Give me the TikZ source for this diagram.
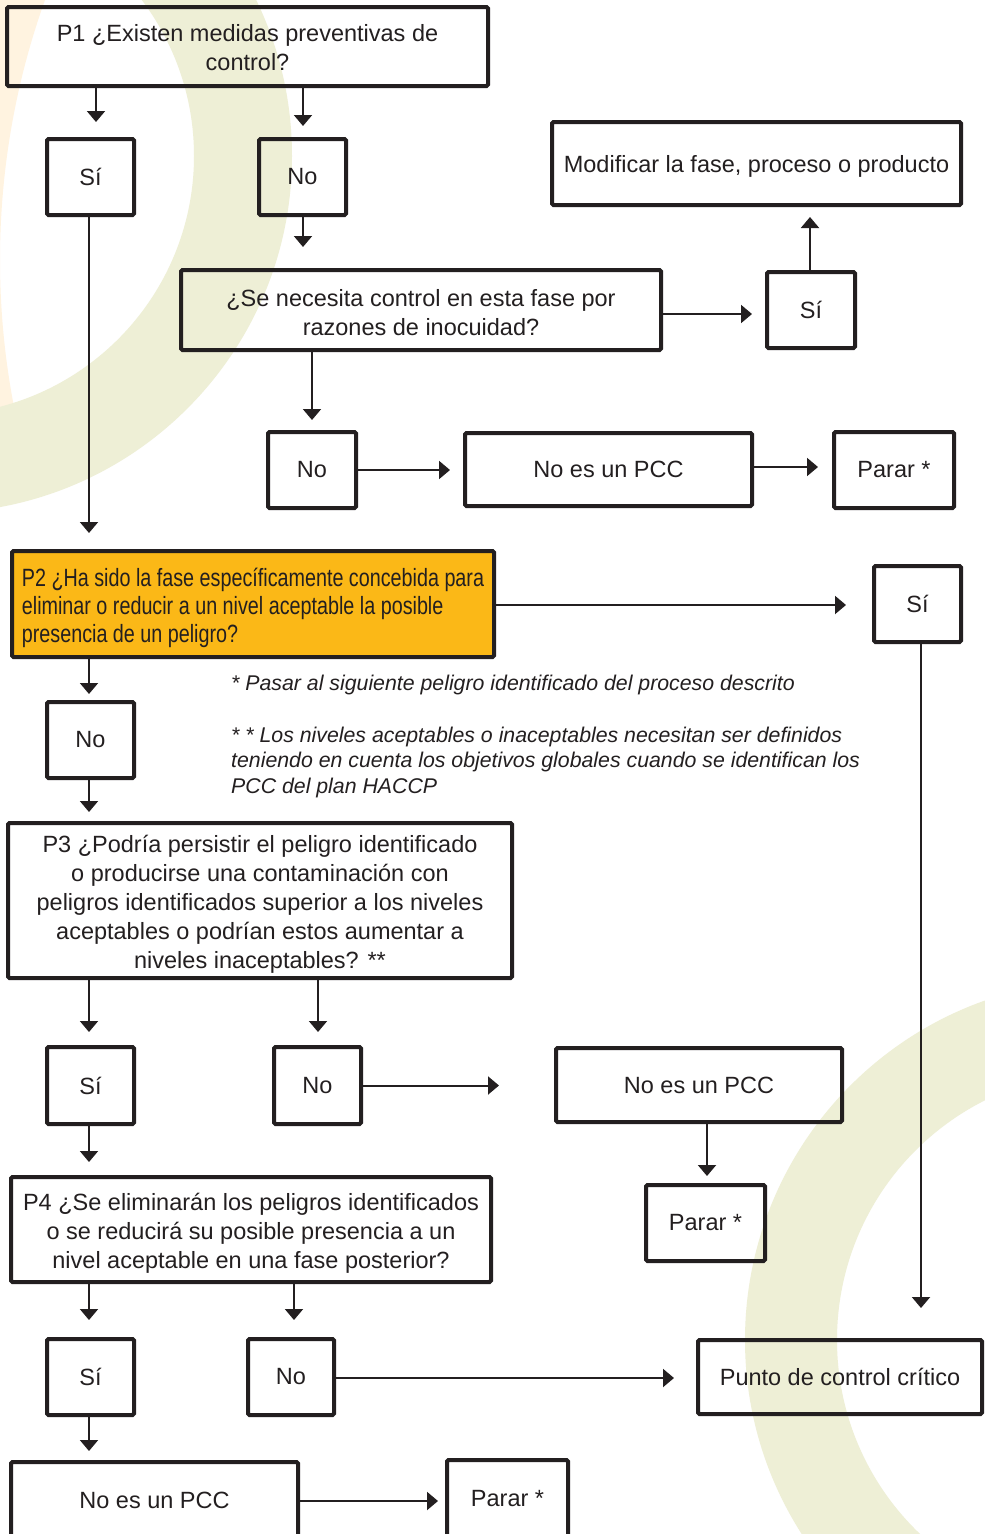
\documentclass[tikz,border=0pt]{standalone}
\usepackage{fontspec}
\setmainfont{Liberation Sans}
\newfontfamily\narrowf[FakeStretch=0.79]{Liberation Sans}
\usetikzlibrary{arrows.meta}
\definecolor{ink}{HTML}{231F20}
\definecolor{ringolive}{RGB}{238,239,214}
\definecolor{ringpeach}{RGB}{255,243,224}
\definecolor{p2orange}{HTML}{FBB817}
\newcommand{\tallline}[1]{\rule{0pt}{#1}}
\begin{document}
\begin{tikzpicture}[x=1pt,y=-1pt,
  box/.style={draw=ink, line width=4pt, rounded corners=1.5pt, inner sep=0pt, align=center, text=ink, font=\fontsize{23.5}{29}\selectfont},
  arr/.style={draw=ink, line width=2pt, -{Triangle[width=18pt,length=11pt]}},
  note/.style={text=ink, font=\fontsize{21.3}{25.5}\selectfont\itshape, align=left, inner sep=0pt, anchor=west}]
\useasboundingbox (0,0) rectangle (985,1534);
\fill[white] (0,0) rectangle (985,1534);
\begin{scope}
\clip (0,0) rectangle (70,440);
\fill[ringpeach, even odd rule] (770,260) circle[radius=815pt] (770,260) circle[radius=770pt];
\end{scope}
\begin{scope}
\clip (0,0) rectangle (985,1534);
\fill[ringolive, even odd rule] (-65,156) circle[radius=357pt] (-65,156) circle[radius=259pt];
\fill[ringolive, even odd rule] (1105,1340) circle[radius=360pt] (1105,1340) circle[radius=268pt];
\end{scope}

% boxes
\node[box, minimum width=481pt, minimum height=79pt] (p1) at (247.5,46.5) {\tallline{19.5pt}P1 ¿Existen medidas preventivas de\\control?};
\node[box, minimum width=87pt, minimum height=76pt] (si1) at (90.5,177) {Sí};
\node[box, minimum width=87pt, minimum height=76pt] (no1) at (302.5,177) {No};
\node[box, minimum width=480pt, minimum height=80pt] (nec) at (421,310) {\tallline{22pt}¿Se necesita control en esta fase por\\razones de inocuidad?};
\node[box, minimum width=88pt, minimum height=76pt] (si2) at (811,310) {Sí};
\node[box, minimum width=409pt, minimum height=83pt] (mod) at (756.5,163.5) {\tallline{23pt}Modificar la fase, proceso o producto};
\node[box, minimum width=88pt, minimum height=76pt] (no2) at (312,470) {No};
\node[box, minimum width=287pt, minimum height=73pt] (pcc1) at (608.5,469.5) {No es un PCC};
\node[box, minimum width=120pt, minimum height=76pt] (par1) at (894,470) {Parar *};
\node[box, fill=p2orange, align=left, minimum width=482pt, minimum height=106pt, font=\narrowf\fontsize{25}{28}\selectfont] (p2) at (253,604) {\tallline{27pt}P2 ¿Ha sido la fase específicamente concebida para\\eliminar o reducir a un nivel aceptable la posible\\presencia de un peligro?};
\node[box, minimum width=87pt, minimum height=76pt] (si3) at (917.5,604) {Sí};
\node[box, minimum width=87pt, minimum height=76pt] (no3) at (90.5,740) {No};
\node[box, minimum width=504pt, minimum height=155pt] (p3) at (260,900.5) {\tallline{24.5pt}P3 ¿Podría persistir el peligro identificado\\o producirse una contaminación con\\peligros identificados superior a los niveles\\aceptables o podrían estos aumentar a\\niveles inaceptables? **};
\node[box, minimum width=87pt, minimum height=77pt] (si4) at (90.5,1085.5) {Sí};
\node[box, minimum width=87pt, minimum height=77pt] (no4) at (317.5,1085.5) {No};
\node[box, minimum width=286pt, minimum height=74pt] (pcc2) at (699,1085) {No es un PCC};
\node[box, minimum width=119pt, minimum height=76pt] (par2) at (705.5,1223) {Parar *};
\node[box, minimum width=480pt, minimum height=105pt] (p4) at (251,1229.5) {\tallline{24.5pt}P4 ¿Se eliminarán los peligros identificados\\o se reducirá su posible presencia a un\\nivel aceptable en una fase posterior?};
\node[box, minimum width=87pt, minimum height=76pt] (si5) at (90.5,1377) {Sí};
\node[box, minimum width=86pt, minimum height=76pt] (no5) at (291,1377) {No};
\node[box, minimum width=284pt, minimum height=74pt] (pcc) at (840,1377) {Punto de control crítico};
\node[box, minimum width=287pt, minimum height=76pt] (pcc3) at (154.5,1500) {No es un PCC};
\node[box, minimum width=121pt, minimum height=78pt] (par3) at (507.5,1499) {Parar *};

% notes
\node[note] (n1) at (231,685) {* Pasar al siguiente peligro identificado del proceso descrito};
\node[note] (n2) at (231,762) {* * Los niveles aceptables o inaceptables necesitan ser definidos\\teniendo en cuenta los objetivos globales cuando se identifican los\\PCC del plan HACCP};

% connectors
\draw[arr, shorten >=15pt] ([xshift=5.5pt]si1.north |- p1.south) -- ([xshift=5.5pt]si1.north);
\draw[arr, shorten >=11pt] ([xshift=0.5pt]no1.north |- p1.south) -- ([xshift=0.5pt]no1.north);
\draw[arr, shorten >=21pt] ([xshift=0.5pt]no1.south) -- ([xshift=0.5pt]no1.south |- nec.north);
\draw[arr, shorten >=16pt] ([xshift=-1.5pt]si1.south) -- ([xshift=-1.5pt]si1.south |- p2.north);
\draw[arr, shorten >=13pt] ([yshift=-4pt]si2.west -| nec.east) -- ([yshift=-4pt]si2.west);
\draw[arr, shorten >=10pt] ([xshift=-1pt]si2.north) -- ([xshift=-1pt]si2.north |- mod.south);
\draw[arr, shorten >=10pt] (no2.north |- nec.south) -- (no2.north);
\draw[arr, shorten >=13pt] (no2.east) -- (no2.east -| pcc1.west);
\draw[arr, shorten >=14pt] ([yshift=2.5pt]pcc1.east) -- ([yshift=2.5pt]pcc1.east -| par1.west);
\draw[arr, shorten >=26pt] ([yshift=-1pt]si3.west -| p2.east) -- ([yshift=-1pt]si3.west);
\draw[arr, shorten >=30pt] ([xshift=3.5pt]si3.south) -- ([xshift=3.5pt]si3.south |- pcc.north);
\draw[arr, shorten >=6pt] ([xshift=-1.5pt]no3.north |- p2.south) -- ([xshift=-1.5pt]no3.north);
\draw[arr, shorten >=9pt] ([xshift=-1.5pt]no3.south) -- ([xshift=-1.5pt]no3.south |- p3.north);
\draw[arr, shorten >=13pt] ([xshift=-1.5pt]si4.north |- p3.south) -- ([xshift=-1.5pt]si4.north);
\draw[arr, shorten >=13pt] ([xshift=0.5pt]no4.north |- p3.south) -- ([xshift=0.5pt]no4.north);
\draw[arr, shorten >=55pt] (no4.east) -- (no4.east -| pcc2.west);
\draw[arr, shorten >=7pt] ([xshift=1.5pt]par2.north |- pcc2.south) -- ([xshift=1.5pt]par2.north);
\draw[arr, shorten >=13pt] ([xshift=-1.5pt]si4.south) -- ([xshift=-1.5pt]si4.south |- p4.north);
\draw[arr, shorten >=17pt] ([xshift=-1.5pt]si5.north |- p4.south) -- ([xshift=-1.5pt]si5.north);
\draw[arr, shorten >=17pt] ([xshift=3pt]no5.north |- p4.south) -- ([xshift=3pt]no5.north);
\draw[arr, shorten >=22pt] ([yshift=-1pt]no5.east) -- ([yshift=-1pt]no5.east -| pcc.west);
\draw[arr, shorten >=9pt] ([xshift=-1.5pt]si5.south) -- ([xshift=-1.5pt]si5.south |- pcc3.north);
\draw[arr, shorten >=7pt] ([yshift=-1pt]pcc3.east) -- ([yshift=-1pt]pcc3.east -| par3.west);
\end{tikzpicture}
\end{document}
